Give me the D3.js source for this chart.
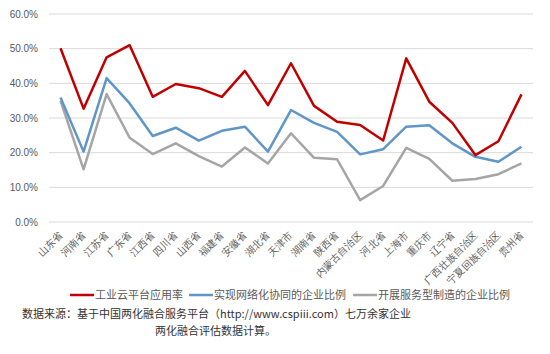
<!DOCTYPE html>
<html>
<head>
<meta charset="utf-8">
<script src="https://cdn.jsdelivr.net/npm/d3@7"></script>
<style>
  body { margin: 0; background: #fff; }
  svg { display: block; font-family: "Noto Sans CJK SC", "Noto Sans", sans-serif; }
</style>
</head>
<body>
<script>
// Chart data
var provinces = ["山东省", "河南省", "江苏省", "广东省", "江西省", "四川省", "山西省", "福建省",
  "安徽省", "湖北省", "天津市", "湖南省", "陕西省", "内蒙古自治区", "河北省", "上海市",
  "重庆市", "辽宁省", "广西壮族自治区", "宁夏回族自治区", "贵州省"];
var cloudRate = [50.1, 32.7, 47.5, 51.0, 36.1, 39.8, 38.6, 36.1, 43.6, 33.7, 45.8,
  33.5, 28.9, 28.0, 23.5, 47.2, 34.7, 28.6, 19.3, 23.3, 36.8];
var networkRate = [35.9, 20.3, 41.5, 34.2, 24.8, 27.2, 23.5, 26.3, 27.5, 20.3, 32.3,
  28.6, 26.0, 19.5, 21.0, 27.5, 27.9, 22.7, 18.8, 17.4, 21.7];
var serviceRate = [35.0, 15.2, 36.9, 24.3, 19.6, 22.7, 19.0, 16.0, 21.5, 16.9, 25.6,
  18.5, 18.1, 6.3, 10.4, 21.4, 18.2, 11.9, 12.4, 13.8, 16.9];
var seriesNames = ["工业云平台应用率", "实现网络化协同的企业比例", "开展服务型制造的企业比例"];
var yTicks = [0, 10, 20, 30, 40, 50, 60];

var colors = ["#C00000", "#5F96C8", "#A5A5A5"];
var allSeries = [cloudRate, networkRate, serviceRate];

var svgWidth = 550;
var svgHeight = 354;
var margin = { top: 14, right: 17, bottom: 132, left: 49 };
var chartWidth = svgWidth - margin.left - margin.right;
var chartHeight = svgHeight - margin.top - margin.bottom;

var svg = d3.select("body")
  .append("svg")
  .attr("width", svgWidth)
  .attr("height", svgHeight);

var chartGroup = svg.append("g")
  .attr("transform", `translate(${margin.left}, ${margin.top})`);

var xScale = d3.scaleBand()
  .domain(provinces)
  .range([0, chartWidth]);

var yScale = d3.scaleLinear()
  .domain([0, 60])
  .range([chartHeight, 0]);

// gridlines
chartGroup.selectAll(".grid")
  .data(yTicks)
  .enter()
  .append("line")
  .attr("x1", 0)
  .attr("x2", chartWidth)
  .attr("y1", d => yScale(d))
  .attr("y2", d => yScale(d))
  .attr("stroke", "#D9D9D9")
  .attr("stroke-width", 1);

// y axis labels
var yAxis = d3.axisLeft(yScale)
  .tickValues(yTicks)
  .tickFormat(d => d.toFixed(1) + "%")
  .tickSize(0)
  .tickPadding(11);

var yAxisGroup = chartGroup.append("g").call(yAxis);
yAxisGroup.select(".domain").remove();
yAxisGroup.selectAll("text")
  .attr("fill", "#595959")
  .style("font-size", "10px")
  .style("font-family", "Arial, 'Liberation Sans', sans-serif");

// x axis labels
var xAxis = d3.axisBottom(xScale).tickSize(0).tickPadding(0);
var xAxisGroup = chartGroup.append("g")
  .attr("transform", `translate(0, ${chartHeight})`)
  .call(xAxis);
xAxisGroup.select(".domain").remove();
xAxisGroup.selectAll("text")
  .attr("fill", "#595959")
  .style("font-size", "10px")
  .attr("text-anchor", "end")
  .attr("dy", "0.35em")
  .attr("transform", "translate(0, 11) rotate(-45)");

// lines
var line = d3.line()
  .x((d, i) => xScale(provinces[i]) + xScale.bandwidth() / 2)
  .y(d => yScale(d));

chartGroup.selectAll(".series")
  .data(allSeries.slice().reverse())
  .enter()
  .append("path")
  .attr("fill", "none")
  .attr("stroke", (d, i) => colors[2 - i])
  .attr("stroke-width", 2.5)
  .attr("stroke-linejoin", "round")
  .attr("d", line);

// legend
var legendX = [70, 189, 353];
var legend = svg.selectAll(".legend")
  .data(seriesNames)
  .enter()
  .append("g")
  .attr("transform", (d, i) => `translate(${legendX[i]}, 295)`);

legend.append("line")
  .attr("x1", 0)
  .attr("x2", 24)
  .attr("stroke", (d, i) => colors[i])
  .attr("stroke-width", 2.5);

legend.append("text")
  .attr("x", 25)
  .attr("dy", "0.35em")
  .attr("fill", "#595959")
  .style("font-size", "11px")
  .text(d => d);

// source note
svg.append("text")
  .attr("x", 22)
  .attr("y", 318)
  .attr("fill", "#333")
  .style("font-size", "11px")
  .text("数据来源：基于中国两化融合服务平台（http://www.cspiii.com）七万余家企业");

svg.append("text")
  .attr("x", 155)
  .attr("y", 335)
  .attr("fill", "#333")
  .style("font-size", "11px")
  .text("两化融合评估数据计算。");
</script>
</body>
</html>
